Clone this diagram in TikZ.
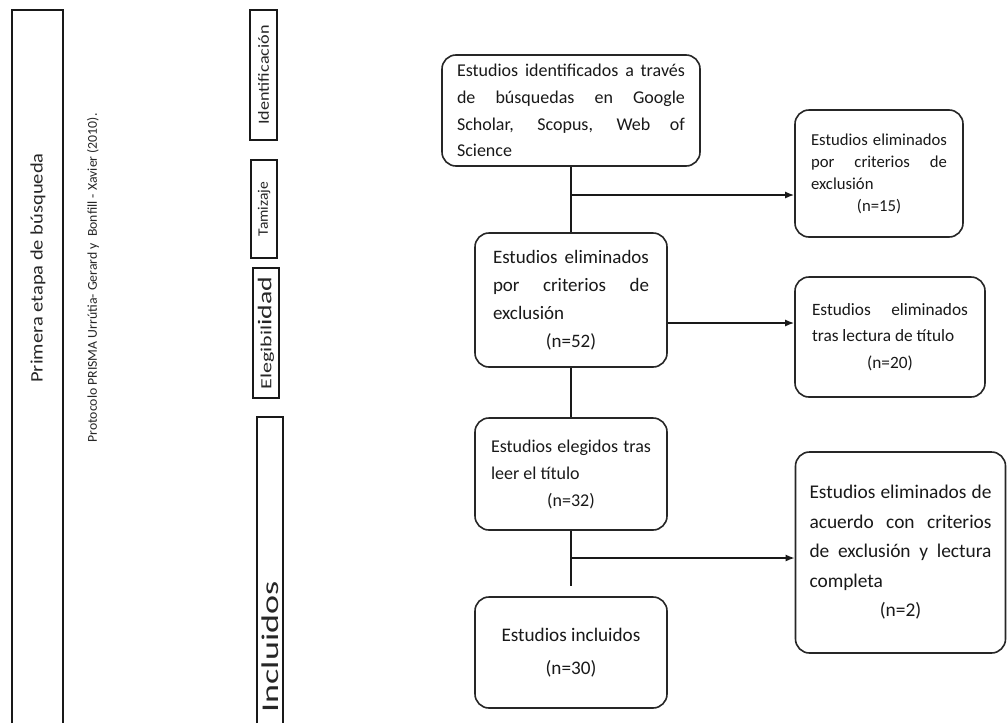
\documentclass[tikz,border=0pt]{standalone}
\usepackage{fontspec}
\setmainfont{Carlito}
\usepackage{graphicx}
\usetikzlibrary{arrows.meta}
\newcommand\fsz[2]{\fontsize{#1}{#2}\selectfont}
\hyphenpenalty=10000
\exhyphenpenalty=10000
\begin{document}
\begin{tikzpicture}[x=1pt,y=-1pt,
  box/.style={draw=black!85, line width=1.6pt, rounded corners=14pt, inner sep=0pt, align=justify, text=black!90},
  stagebox/.style={draw=black!90, line width=1.3pt, rotate=90, inner sep=0pt, text=black!85},
  vtext/.style={rotate=90, inner sep=0pt, text=black!85},
  conn/.style={line width=1.6pt, draw=black!90},
  arr/.style={conn, -{Latex[length=9pt,width=7pt]}}]
\useasboundingbox[fill=white] (0,0) rectangle (1008,723);

% left frame
\draw[line width=1.4pt, draw=black!90] (12,723) -- (12,10) -- (63,10) -- (63,723);
\node[vtext] (etapa) at (38,268) {\fsz{17.5}{20}\scalebox{1.17}[1]{Primera etapa de búsqueda}};
\node[vtext] (proto) at (93,278) {\fsz{13.5}{16}\scalebox{1.02}[1]{Protocolo PRISMA Urrútia- Gerard y~ Bonfill - Xavier (2010).}};

% stage labels
\node[stagebox, minimum width=130, minimum height=27] (ident) at (263.5,75) {\fsz{15.5}{18}\scalebox{1.17}[1]{Identificación}};
\node[stagebox, minimum width=98, minimum height=26] (tamiz) at (264,209) {\fsz{14.5}{17}\scalebox{1.07}[1]{Tamizaje}};
\node[stagebox, minimum width=130, minimum height=26] (eleg) at (266,333) {\scalebox{1.42}[1]{{\fsz{15.5}{18}Elegibil}{\fsz{19.5}{22}idad}}};
\draw[line width=1.3pt, draw=black!90] (257,723) -- (257,417) -- (283,417) -- (283,723);
\node[vtext] (incl) at (270,647) {\fsz{24}{28}\scalebox{1.5}[1]{Incluidos}};

% flow boxes
\node[box, minimum width=258, minimum height=111, text width=228, font=\fsz{18}{26.7}] (b1) at (571,110.5)
  {Estudios identificados a través de búsquedas en Google Scholar, Scopus, Web of Science};
\node[box, minimum width=168, minimum height=127, text width=136, font=\fsz{16.7}{22}] (b2) at (879,173.5)
  {Estudios eliminados por criterios de exclusión\par{\centering (n=15)\par}};
\node[box, minimum width=192, minimum height=134, text width=156, font=\fsz{19}{28}] (b3) at (571,300)
  {Estudios eliminados por criterios de exclusión\par{\centering (n=52)\par}};
\node[box, minimum width=190, minimum height=120, text width=156, font=\fsz{17.3}{26.5}] (b4) at (890,337)
  {Estudios eliminados tras lectura de título\par{\centering (n=20)\par}};
\node[box, minimum width=192, minimum height=112, text width=160, font=\fsz{18}{27}] (b5) at (571,474)
  {Estudios elegidos tras leer el título\par{\centering (n=32)\par}};
\node[box, minimum width=210, minimum height=201, text width=182, font=\fsz{19.4}{29.5}] (b6) at (900.5,552.5)
  {Estudios eliminados de acuerdo con criterios de exclusión y lectura completa\par{\centering (n=2)\par}};
\node[box, align=center, minimum width=192, minimum height=111, font=\fsz{19.2}{33}] (b7) at (571,652.5)
  {Estudios incluidos\\(n=30)};

% connectors
\coordinate (j1) at (571,195);
\coordinate (j2) at (700,323);
\coordinate (j3) at (571,558);
\coordinate (e5) at (571,586);
\draw[conn] (b1.south) -- (b3.north);
\draw[arr] (j1) -- (j1 -| b2.west);
\draw[arr] (j2 -| b3.east) -- (j2 -| b4.west);
\draw[conn] (b3.south) -- (b5.north);
\draw[conn] (b5.south) -- (e5);
\draw[arr] (j3) -- (j3 -| b6.west);
\end{tikzpicture}
\end{document}
